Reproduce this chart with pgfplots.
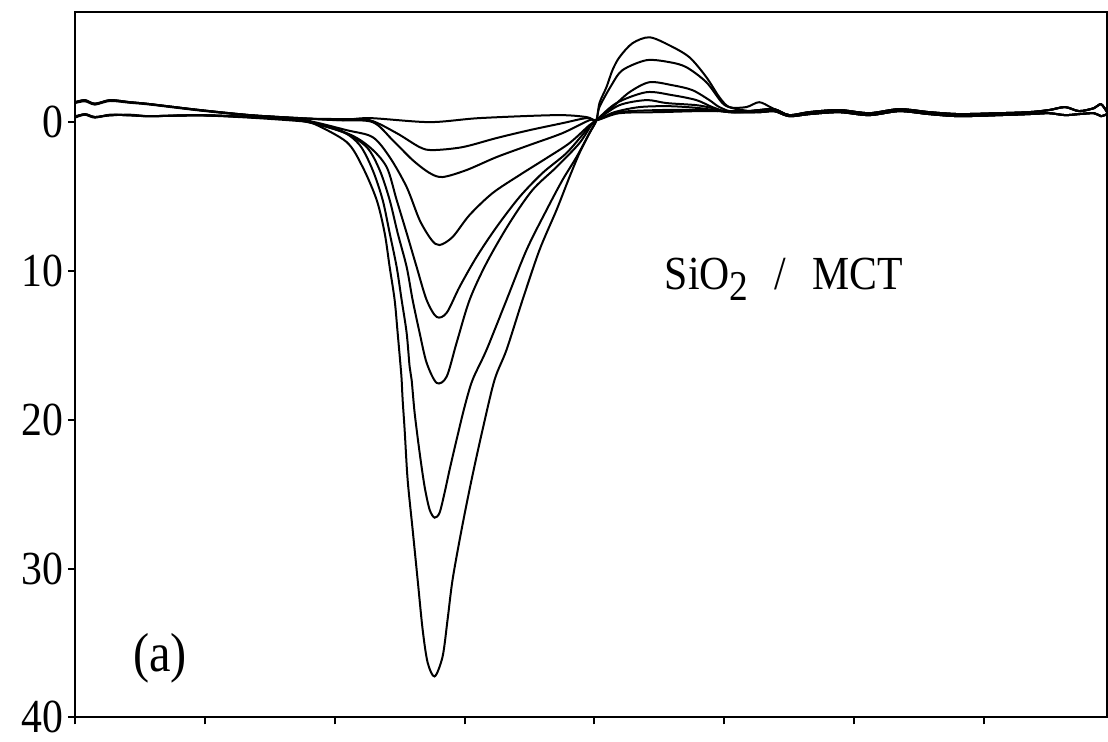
\documentclass[border=0pt]{standalone}
\usepackage{fontspec}
\setmainfont[FakeStretch=0.88]{Liberation Serif}
\usepackage{pgfplots}
\pgfplotsset{compat=1.18}
\tikzset{trace/.style={black, line width=0.8pt, smooth, tension=0.5}}

\begin{document}
\begin{tikzpicture}
\begin{axis}[
    scale only axis,
    width=413.2pt, height=282.4pt,
    xmin=75, xmax=1108,
    ymin=-7.4, ymax=40,
    y dir=reverse,
    axis line style={line width=0.8pt},
    tick align=outside,
    major tick length=2.8pt,
    tick style={black, line width=0.8pt},
    xtick={75,205,335,465,595,725,855,985},
    xticklabels={},
    xtick pos=bottom,
    ytick={0,10,20,30,40},
    ytick pos=left,
    /pgf/number format/assume math mode=true,
    yticklabel style={font=\fontsize{19}{22}\selectfont, inner sep=1.5pt},
    clip=false,
]
% upper left band
\addplot[trace] coordinates {
(75,-1.34)(85,-1.48)(95,-1.21)(110,-1.48)(130,-1.34)(150,-1.21)(200,-0.81)(250,-0.47)(300,-0.27)
(340,-0.13)(370,-0.27)(430,0)(480,-0.27)(557,-0.47)(587,-0.34)(597,-0.13)
(620,-0.60)(660,-0.67)(700,-0.74)(740,-0.74)
(760,-0.67)(775,-0.74)(790,-0.40)(810,-0.54)(840,-0.67)(870,-0.47)(900,-0.74)(930,-0.54)(960,-0.40)(1000,-0.47)(1030,-0.54)(1050,-0.60)(1066,-0.47)(1080,-0.54)(1095,-0.60)(1102,-0.40)(1108,-0.54)
};
\addplot[trace] coordinates {
(75,-1.28)(85,-1.40)(95,-1.18)(110,-1.42)(130,-1.30)(150,-1.18)(200,-0.78)(250,-0.45)(300,-0.25)
(340,-0.20)(370,-0.13)(397,0.74)(420,1.68)(433,1.88)(463,1.68)(497,1.07)(530,0.54)(563,0.07)(587,-0.27)(597,-0.13)
(620,-0.67)(660,-0.81)(700,-0.81)(740,-0.67)
(760,-0.81)(775,-0.87)(790,-0.47)(810,-0.67)(840,-0.81)(870,-0.60)(900,-0.87)(930,-0.67)(960,-0.54)(1000,-0.60)(1030,-0.67)(1050,-0.81)(1066,-1.01)(1080,-0.74)(1095,-0.94)(1102,-1.21)(1108,-0.67)
};
\addplot[trace] coordinates {
(75,-1.34)(85,-1.45)(95,-1.25)(110,-1.45)(130,-1.34)(150,-1.21)(200,-0.81)(250,-0.47)(300,-0.27)
(340,-0.13)(373,0)(393,1.21)(413,2.55)(430,3.42)(443,3.69)(467,3.22)(497,2.35)(530,1.54)(563,0.74)(590,-0.13)(597,-0.13)
(615,-0.67)(640,-1.01)(670,-1.07)(700,-0.94)(730,-0.67)
(760,-0.67)(775,-0.74)(790,-0.40)(810,-0.54)(840,-0.67)(870,-0.47)(900,-0.74)(930,-0.54)(960,-0.40)(1000,-0.47)(1030,-0.54)(1050,-0.60)(1066,-0.47)(1080,-0.54)(1095,-0.60)(1102,-0.40)(1108,-0.54)
};
\addplot[trace] coordinates {
(75,-1.30)(85,-1.48)(95,-1.21)(110,-1.48)(130,-1.34)(150,-1.21)(200,-0.81)(250,-0.47)(300,-0.20)
(347,0.54)(373,1.01)(390,2.35)(407,4.36)(420,6.58)(432,7.92)(440,8.26)(453,7.72)(470,6.24)(493,4.77)(520,3.56)(547,2.42)(570,1.41)(590,0.20)(597,-0.13)
(620,-1.14)(647,-1.48)(667,-1.28)(697,-1.14)(713,-0.94)(730,-0.67)
(760,-0.81)(775,-0.87)(790,-0.47)(810,-0.67)(840,-0.81)(870,-0.60)(900,-0.87)(930,-0.67)(960,-0.54)(1000,-0.60)(1030,-0.67)(1050,-0.81)(1066,-1.01)(1080,-0.74)(1095,-0.94)(1102,-1.21)(1108,-0.67)
};
% lower left band
\addplot[trace] coordinates {
(75,-0.34)(85,-0.54)(95,-0.34)(110,-0.47)(130,-0.47)(150,-0.40)(200,-0.47)(250,-0.34)(300,-0.13)
(347,0.74)(370,1.68)(387,3.02)(397,5.23)(407,7.45)(417,9.73)(427,11.95)(437,13.09)(447,12.82)(460,11.07)(477,9.06)(497,7.05)(520,5.03)(543,3.42)(567,2.08)(587,0.54)(597,-0.13)
(617,-1.28)(647,-2.01)(673,-1.81)(697,-1.48)(713,-1.01)(730,-0.67)
(760,-0.67)(775,-0.74)(790,-0.40)(810,-0.54)(840,-0.67)(870,-0.47)(900,-0.74)(930,-0.54)(960,-0.40)(1000,-0.47)(1030,-0.54)(1050,-0.60)(1066,-0.47)(1080,-0.54)(1095,-0.60)(1102,-0.40)(1108,-0.54)
};
\addplot[trace] coordinates {
(75,-0.40)(85,-0.50)(95,-0.30)(110,-0.50)(130,-0.45)(150,-0.40)(200,-0.45)(250,-0.34)(300,-0.10)
(343,0.67)(367,1.68)(380,3.22)(390,5.23)(398,7.45)(407,9.73)(413,11.95)(420,14.16)(427,16.17)(437,17.52)(447,17.11)(457,14.83)(470,11.95)(487,9.46)(510,6.78)(533,4.56)(557,3.02)(580,1.41)(593,0.07)(597,-0.13)
(613,-1.01)(630,-2.01)(650,-2.68)(673,-2.48)(693,-2.15)(710,-1.48)(720,-1.01)(735,-0.67)
(760,-0.81)(775,-0.87)(790,-0.47)(810,-0.67)(840,-0.81)(870,-0.60)(900,-0.87)(930,-0.67)(960,-0.54)(1000,-0.60)(1030,-0.67)(1050,-0.81)(1066,-1.01)(1080,-0.74)(1095,-0.94)(1102,-1.21)(1108,-0.67)
};
\addplot[trace] coordinates {
(75,-0.34)(85,-0.54)(95,-0.34)(110,-0.47)(130,-0.47)(150,-0.40)(200,-0.47)(250,-0.34)(300,-0.13)
(340,0.54)(360,1.54)(373,3.22)(383,5.23)(390,7.45)(397,9.73)(402,11.95)(407,14.16)(410,16.44)(412,17.32)(415,19.53)(420,22.21)(425,24.50)(430,26.04)(435,26.58)(440,26.24)(445,24.90)(450,23.36)(457,21.34)(465,19.13)(473,17.32)(487,15.30)(507,11.95)(527,8.59)(547,5.91)(563,3.89)(577,2.35)(590,0.74)(597,-0.13)
(600,-1.01)(612,-2.48)(623,-3.49)(647,-4.16)(670,-4.03)(687,-3.69)(707,-2.68)(723,-1.28)(733,-0.94)(750,-0.74)
(760,-0.67)(775,-0.74)(790,-0.40)(810,-0.54)(840,-0.67)(870,-0.47)(900,-0.74)(930,-0.54)(960,-0.40)(1000,-0.47)(1030,-0.54)(1050,-0.60)(1066,-0.47)(1080,-0.54)(1095,-0.60)(1102,-0.40)(1108,-0.54)
};
\addplot[trace] coordinates {
(75,-0.30)(85,-0.50)(95,-0.34)(110,-0.45)(130,-0.50)(150,-0.40)(200,-0.45)(250,-0.30)(300,-0.07)
(313,0.07)(347,1.34)(363,3.02)(377,5.23)(385,7.45)(390,9.73)(395,11.95)(398,14.16)(401,16.44)(402,17.32)(403,18.66)(405,20.67)(408,24.03)(413,27.38)(418,30.74)(423,34.09)(428,36.31)(435,37.25)(443,35.91)(448,33.42)(453,30.74)(462,27.38)(472,24.03)(483,20.67)(495,17.32)(507,15.30)(523,11.95)(540,8.59)(557,5.91)(570,3.69)(580,2.08)(590,0.74)(597,-0.13)
(600,-1.28)(607,-2.35)(613,-3.49)(620,-4.36)(633,-5.30)(650,-5.70)(670,-5.16)(690,-4.36)(707,-3.02)(720,-1.68)(730,-1.01)(747,-1.01)(760,-1.34)(773,-0.94)(790,-0.47)
(810,-0.67)(840,-0.81)(870,-0.60)(900,-0.87)(930,-0.67)(960,-0.54)(1000,-0.60)(1030,-0.67)(1050,-0.81)(1066,-1.01)(1080,-0.74)(1095,-0.94)(1102,-1.21)(1108,-0.67)
};
\node[anchor=base west, font=\fontsize{19}{22}\selectfont, inner sep=0pt]
  at (axis cs:665,11.28) {SiO\raisebox{-0.5ex}{\fontsize{17}{17}\selectfont 2}\hspace{0.55em}/\hspace{0.55em}MCT};
\node[anchor=base west, font=\fontsize{22}{26}\selectfont, inner sep=0pt]
  at (axis cs:133,36.9) {(a)};
\coordinate (bl) at (axis description cs:-0.0726,-0.0297);
\coordinate (tr) at (axis description cs:1,1.017);
\end{axis}
\path (bl) rectangle (tr);
\end{tikzpicture}
\end{document}
